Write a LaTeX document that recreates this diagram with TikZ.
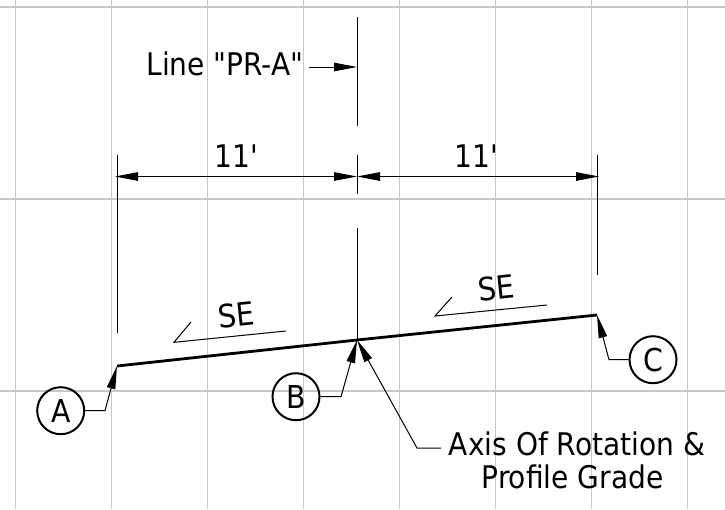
\documentclass[tikz,border=0pt]{standalone}
\usepackage{fontspec}
\setmainfont{DejaVu Sans Condensed}[Ligatures=TeXOff]
\usetikzlibrary{arrows.meta}
\definecolor{gridc}{HTML}{C8C8C8}
\tikzset{
  x=1pt,y=-1pt,
  gridline/.style={draw=gridc,line width=1.3pt},
  thin line/.style={draw=black,line width=1pt},
  heavy/.style={draw=black,line width=2.8pt},
  tip/.style={-{Triangle[length=23pt,width=8.5pt]}},
  tips/.style={{Triangle[length=23pt,width=8.5pt]}-{Triangle[length=23pt,width=8.5pt]}},
  lbl/.style={inner sep=0pt,outer sep=0pt,font=\fontsize{31.2}{31.2}\selectfont,anchor=base},
  bubble/.style={circle,draw=black,line width=2pt,minimum size=47pt,inner sep=0pt,font=\fontsize{31.5}{31.5}\selectfont},
}
\begin{document}
\begin{tikzpicture}
\useasboundingbox (0,0) rectangle (725,509);
\foreach \gx in {15.5,111.5,207.5,303.5,399.5,495.5,591.5,687.5}
  \draw[gridline] (\gx,0) -- (\gx,509);
\foreach \gy in {7,199,391}
  \draw[gridline] (0,\gy) -- (725,\gy);

\coordinate (pA) at (117,366);
\coordinate (pB) at (357,340);
\coordinate (pC) at (597,315);
\draw[heavy] (pA) -- (pB) -- (pC);

% centre line and extension lines
\coordinate (c1) at (357,17);  \coordinate (c2) at (357,126);
\coordinate (c3) at (357,155); \coordinate (c4) at (357,194);
\coordinate (c5) at (357,228); \coordinate (c6) at (357,340);
\coordinate (l1) at (117,155); \coordinate (l2) at (117,333);
\coordinate (r1) at (597,155); \coordinate (r2) at (597,275);
\draw[thin line] (c1) -- (c2);
\draw[thin line] (c3) -- (c4);
\draw[thin line] (c5) -- (c6);
\draw[thin line] (l1) -- (l2);
\draw[thin line] (r1) -- (r2);

% dimensions
\coordinate (dl) at (115,176.5);
\coordinate (dm) at (357,176.5);
\coordinate (dr) at (599,176.5);
\draw[thin line,tips] (dl) -- (dm);
\draw[thin line,tips] (dm) -- (dr);
\node[lbl] (d1) at (236.5,167) {11'};
\node[lbl] (d2) at (476.5,167) {11'};

% line label
\node[lbl] (line) at (225,75) {Line "PR-A"};
\coordinate (ls) at (309,67);
\coordinate (le) at (357,67);
\draw[thin line,tip] (ls) -- (le);

% slope arrows
\coordinate (s1a) at (191,322); \coordinate (s1b) at (174,342.3); \coordinate (s1c) at (286,331);
\coordinate (s2a) at (452,297); \coordinate (s2b) at (435,316); \coordinate (s2c) at (547,305);
\draw[thin line] (s1a) -- (s1b) -- (s1c);
\draw[thin line] (s2a) -- (s2b) -- (s2c);
\node[inner sep=0pt,font=\fontsize{32}{32}\selectfont,rotate=6] (se1) at (236,315) {SE};
\node[inner sep=0pt,font=\fontsize{32}{32}\selectfont,rotate=6] (se2) at (496,288) {SE};

% bubbles
\node[bubble] (A) at (60.7,410.7) {A};
\node[bubble] (B) at (296,396.7) {B};
\node[bubble] (C) at (653,359.7) {C};
\draw[thin line,tip] (A.east) -- (105,410.7) -- (pA);
\draw[thin line,tip] (B.east) -- (341,396.7) -- (pB);
\draw[thin line,tip] (C.west) -- (609,359.7) -- (pC);

% axis note
\node[lbl] (ax) at (577,455) {Axis Of Rotation \&};
\node[lbl] (pg) at (572.5,488) {Profile Grade};
\coordinate (a1) at (441,448);
\coordinate (a2) at (417,448);
\draw[thin line,tip] (a1) -- (a2) -- (pB);
\end{tikzpicture}
\end{document}
